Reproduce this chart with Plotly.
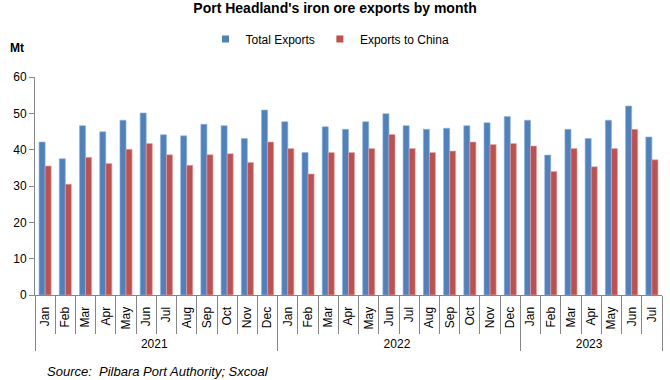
import plotly.graph_objects as go

years = ["2021"] * 12 + ["2022"] * 12 + ["2023"] * 7
months = ["Jan", "Feb", "Mar", "Apr", "May", "Jun", "Jul", "Aug", "Sep", "Oct", "Nov", "Dec"] * 2 + \
         ["Jan", "Feb", "Mar", "Apr", "May", "Jun", "Jul"]

total_exports = [42.1, 37.5, 46.6, 44.9, 48.1, 50.1, 44.1, 43.8, 47.0, 46.6, 43.1, 50.9,
                 47.7, 39.2, 46.3, 45.6, 47.7, 49.9, 46.6, 45.6, 45.9, 46.6, 47.4, 49.1,
                 48.1, 38.5, 45.6, 43.1, 48.1, 52.0, 43.5]
exports_china = [35.5, 30.5, 37.9, 36.2, 40.1, 41.7, 38.6, 35.7, 38.6, 38.9, 36.5, 42.1,
                 40.3, 33.3, 39.2, 39.2, 40.3, 44.2, 40.3, 39.2, 39.6, 42.1, 41.4, 41.7,
                 41.0, 34.0, 40.3, 35.3, 40.3, 45.6, 37.2]

series_names = ["Total Exports", "Exports to China"]
series_colors = ["#4F81BD", "#C0504D"]
edge_colors = ["#8DB3E2", "#E6A9A8"]

FONT = "Liberation Sans"
x = [years, months]

fig = go.Figure()
for vals, name, col, edge in zip([total_exports, exports_china], series_names, series_colors, edge_colors):
    fig.add_trace(go.Bar(x=x, y=vals, name=name, showlegend=False,
                         marker=dict(color=col, line=dict(color=edge, width=0.6))))
# legend entries with small square keys (on a hidden helper axis)
for name, col in zip(series_names, series_colors):
    fig.add_trace(go.Scatter(x=[0], y=[-10], mode="markers", name=name, xaxis="x2", yaxis="y2",
                             marker=dict(symbol="square", size=7, color=col), showlegend=True,
                             hoverinfo="skip"))

fig.update_layout(
    width=670, height=380,
    margin=dict(l=35, r=8, t=77, b=85),
    paper_bgcolor="white", plot_bgcolor="white",
    barmode="group", bargap=0.4, bargroupgap=0,
    font=dict(family=FONT, size=12, color="#000000"),
    title=dict(text="<b>Port Headland's iron ore exports by month</b>",
               x=0.5, xanchor="center", y=1 - 8 / 380, yanchor="middle",
               font=dict(family=FONT, size=14, color="#000000")),
    legend=dict(orientation="h", x=(330 - 35) / 627, xanchor="center", y=(295 - 39) / 218, yanchor="middle",
                font=dict(family=FONT, size=12), traceorder="normal", itemsizing="trace",
                borderwidth=0, tracegroupgap=0),
    showlegend=True,
    xaxis2=dict(overlaying="x", visible=False, range=[-1, 1], fixedrange=True),
    yaxis2=dict(overlaying="y", visible=False, range=[0, 1], fixedrange=True),
    yaxis=dict(range=[0, 60], dtick=10, showgrid=False, zeroline=False, automargin=False,
               showline=True, linecolor="#868686", linewidth=1,
               ticks="outside", ticklen=5, tickcolor="#868686",
               tickfont=dict(family=FONT, size=12, color="#000000")),
    xaxis=dict(type="multicategory", showgrid=False, showline=True, linecolor="#868686", automargin=False,
               ticks="outside", ticklen=38, tickcolor="#868686", tickangle=-90,
               ticklabelstandoff=6,
               showdividers=True, dividercolor="#868686", dividerwidth=1,
               tickfont=dict(family=FONT, size=12, color="#000000")),
)

fig.add_annotation(text="<b>Mt</b>", xref="paper", yref="paper", x=(17 - 35) / 627, y=(295 - 48) / 218,
                   showarrow=False, xanchor="center", yanchor="middle", font=dict(family=FONT, size=12))
fig.add_annotation(text="<i>Source:  Pilbara Port Authority; Sxcoal</i>", xref="paper", yref="paper",
                   x=(45 - 35) / 627, y=(295 - 371) / 218, showarrow=False, xanchor="left", yanchor="middle",
                   font=dict(family=FONT, size=13))

fig.write_html("out.html", post_script="document.body.style.margin='0';",
               config={"displayModeBar": False})
